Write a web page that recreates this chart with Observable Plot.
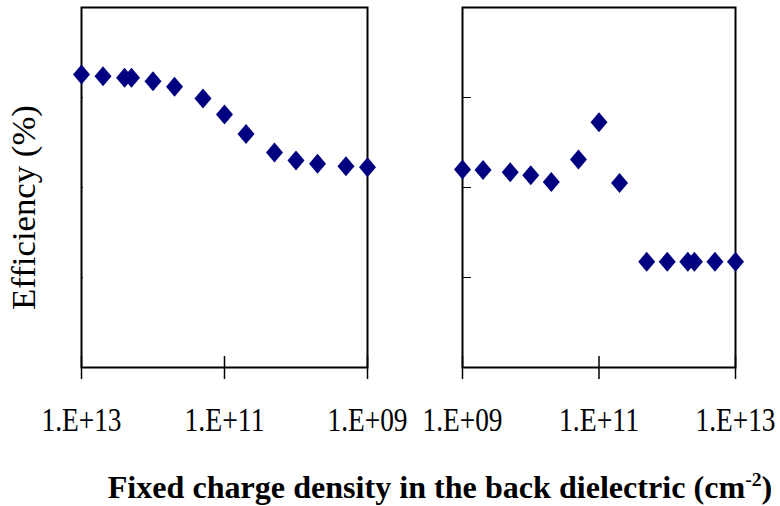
<!DOCTYPE html>
<html>
<head>
<meta charset="utf-8">
<script src="https://cdn.jsdelivr.net/npm/d3@7"></script>
<script src="https://cdn.jsdelivr.net/npm/@observablehq/plot@0.6"></script>
<style>
  body { margin: 0; background: #fff; }
  #chart { position: relative; width: 780px; height: 506px; overflow: hidden; background: #fff; }
  #chart svg { position: absolute; left: 0; top: 0; }
</style>
</head>
<body>
<div id="chart"></div>
<script>
// Fixed charge density (cm^-2) and cell efficiency (%), left panel: decreasing charge
const leftCharge = [1e13, 5e12, 2.5e12, 2e12, 1e12, 5e11, 2e11, 1e11, 5e10, 2e10, 1e10, 5e9, 2e9, 1e9];
const leftEff    = [18.51, 18.47, 18.44, 18.44, 18.36, 18.24, 17.98, 17.62, 17.19, 16.78, 16.60, 16.53, 16.47, 16.45];

// Right panel: increasing charge
const rightCharge = [1e9, 2e9, 5e9, 1e10, 2e10, 5e10, 1e11, 2e11, 5e11, 1e12, 2e12, 2.5e12, 5e12, 1e13];
const rightEff    = [16.40, 16.39, 16.34, 16.27, 16.12, 16.62, 17.45, 16.10, 14.35, 14.35, 14.35, 14.35, 14.35, 14.35];

const xTicks = [1e13, 1e11, 1e9];
const yTicks = [14, 16, 18];
const yDomain = [12, 20];

const yTitle = "Efficiency (%)";
const xTitle = "Fixed charge density in the back dielectric (cm";
const xTitleSup = "-2";

const W = 780, H = 506;
const serif = "Liberation Serif, Times New Roman, serif";

const fmt = d => "1.E+" + String(Math.round(Math.log10(d))).padStart(2, "0");

// Slightly narrow diamond marker
const diamond = {
  draw(ctx, size) {
    const r = Math.sqrt(size / Math.PI);
    const w = r * 0.85;
    ctx.moveTo(0, -r);
    ctx.lineTo(w, 0);
    ctx.lineTo(0, r);
    ctx.lineTo(-w, 0);
    ctx.closePath();
  }
};

function panel({charge, eff, domain, left, right, yTickLen}) {
  const rows = charge.map((c, i) => ({charge: c, eff: eff[i]}));
  return Plot.plot({
    width: W,
    height: H,
    marginLeft: left,
    marginRight: W - right,
    marginTop: 7,
    marginBottom: H - 367,
    style: {background: "transparent", overflow: "visible", fontFamily: serif, color: "black"},
    x: {type: "log", domain},
    y: {domain: yDomain},
    marks: [
      Plot.frame({stroke: "black", strokeWidth: 2}),
      Plot.axisY(yTicks, {tickSize: -yTickLen, tickFormat: () => "", label: null, stroke: "black"}),
      Plot.axisX(xTicks, {tickSize: 12, tickFormat: fmt, label: null, strokeWidth: 1.5, fill: "black"}),
      Plot.axisX(xTicks, {tickSize: -11, tickFormat: () => "", label: null, strokeWidth: 1.5}),
      Plot.dot(rows, {x: "charge", y: "eff", symbol: diamond, r: 10, fill: "#000080", stroke: "none"})
    ]
  });
}

const chart = document.getElementById("chart");
const leftPlot = panel({charge: leftCharge, eff: leftEff, domain: [1e13, 1e9], left: 81, right: 367, yTickLen: 2});
const rightPlot = panel({charge: rightCharge, eff: rightEff, domain: [1e9, 1e13], left: 462, right: 735, yTickLen: 9});
chart.appendChild(leftPlot);
chart.appendChild(rightPlot);

// Tick labels: large serif squeezed to 80px wide, baseline at y ≈ 431
// (the label group is already offset 15.5px below the axis line)
for (const p of [leftPlot, rightPlot]) {
  d3.select(p).selectAll("text").each(function() {
    if (!this.textContent.startsWith("1.E")) return;
    this.style.fontSize = "34px";
    this.style.fontFamily = serif;
    const m = /translate\(([-\d.e]+)/.exec(this.getAttribute("transform") || "");
    const x = m ? +m[1] : 0;
    this.setAttribute("y", 0);
    this.removeAttribute("dy");
    const w = this.getComputedTextLength();
    this.setAttribute("transform", `translate(${x},415.5) scale(${80 / w},1)`);
  });
}

// Axis titles
const svg = d3.select(chart).append("svg")
  .attr("width", W).attr("height", H)
  .style("overflow", "visible")
  .attr("font-family", serif);

const yt = svg.append("text")
  .attr("text-anchor", "middle")
  .attr("font-size", 33)
  .attr("fill", "black")
  .text(yTitle);
const yw = yt.node().getComputedTextLength();
yt.attr("transform", `translate(35,207.5) rotate(-90) scale(${205 / yw},1)`);

const xt = svg.append("text")
  .attr("font-size", 31)
  .attr("font-weight", "bold")
  .attr("fill", "black");
xt.append("tspan").text(xTitle);
xt.append("tspan").attr("font-size", 19).attr("dy", -12).text(xTitleSup);
xt.append("tspan").attr("dy", 12).text(")");
const natural = xt.node().getComputedTextLength();
xt.attr("transform", `translate(107.7,497.7) scale(${665 / natural},1)`);
</script>
</body>
</html>
